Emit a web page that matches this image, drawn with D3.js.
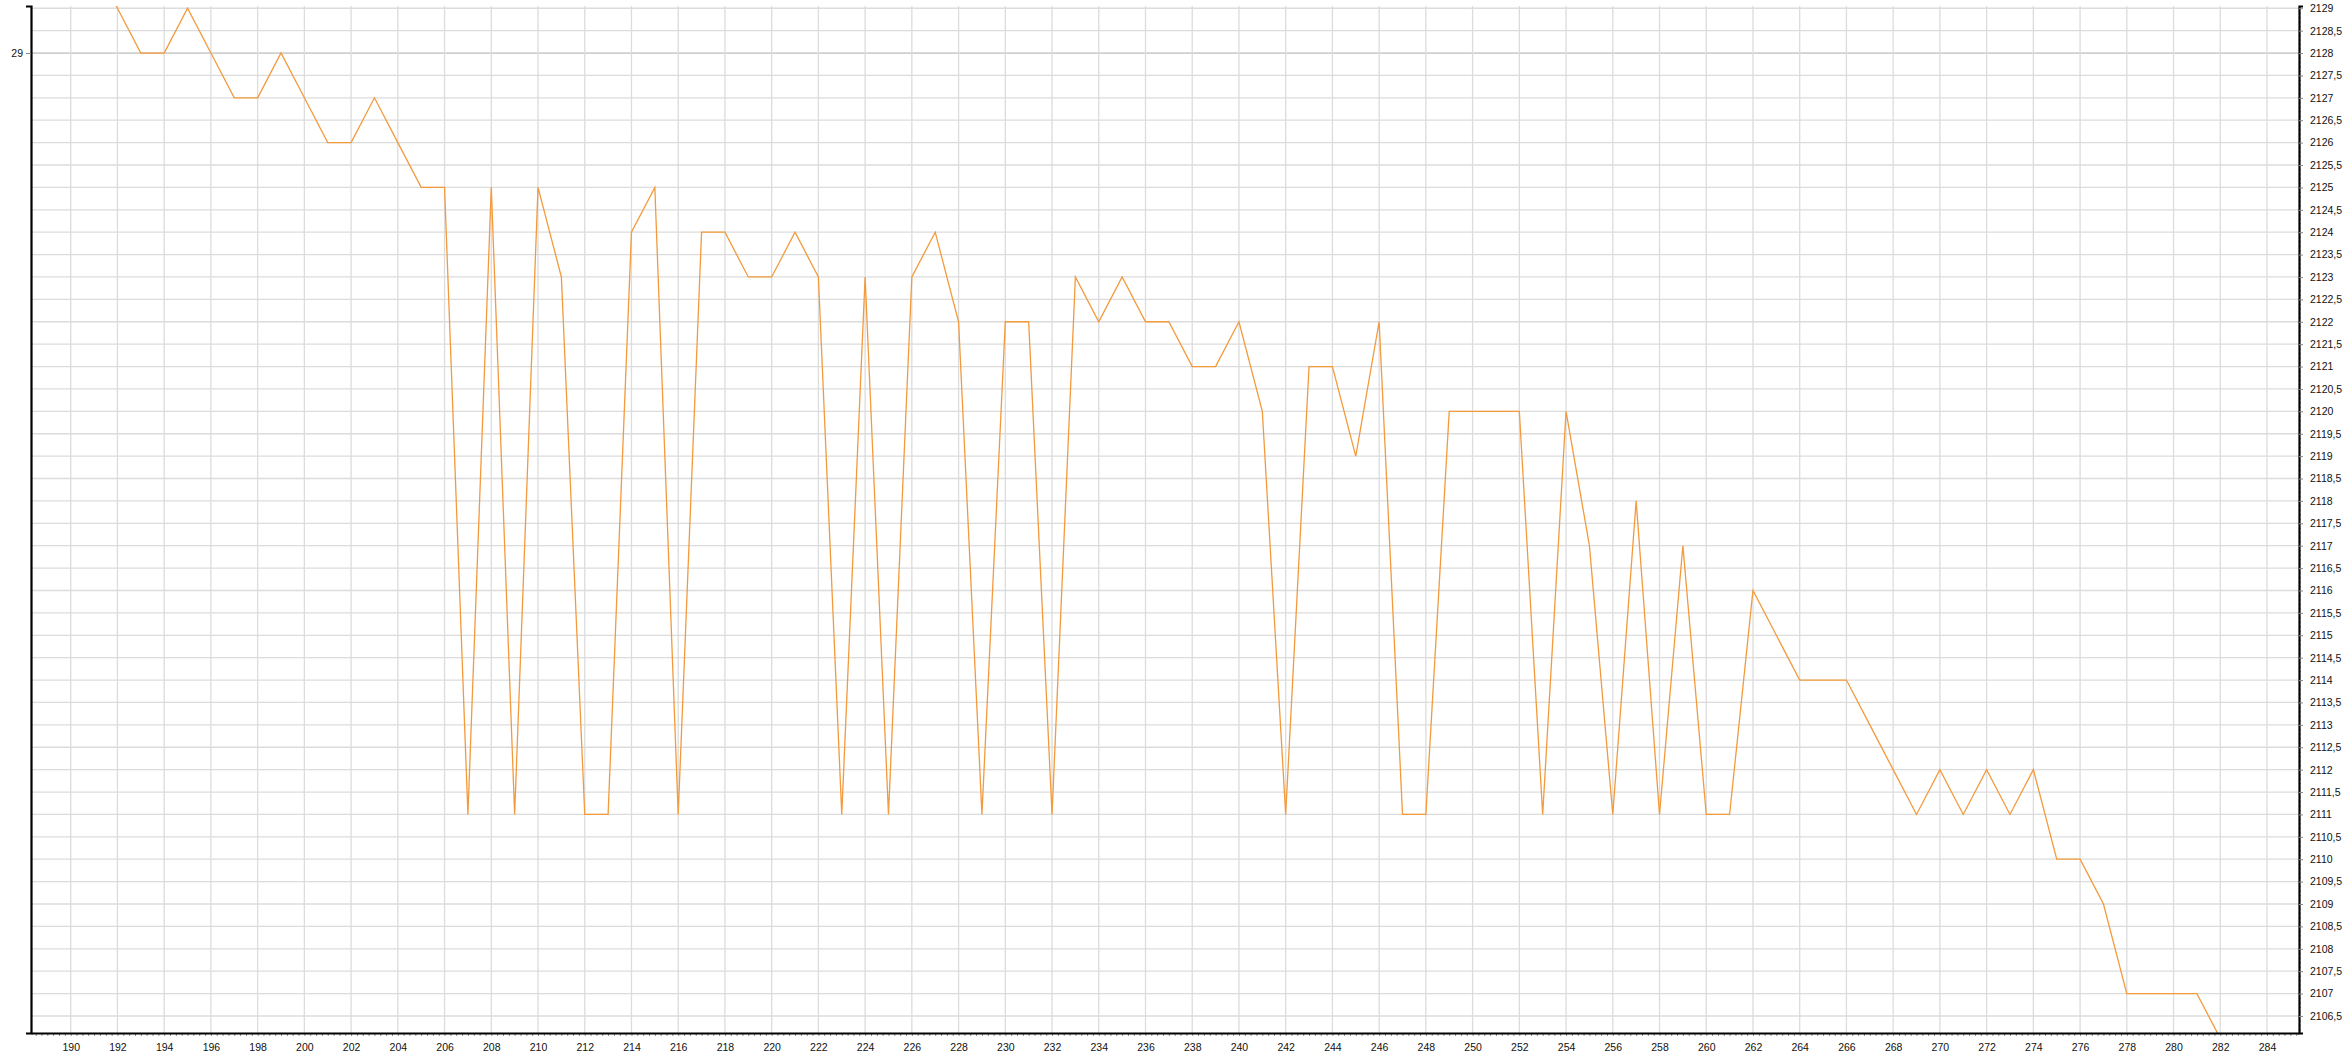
<!DOCTYPE html>
<html>
<head>
<meta charset="utf-8">
<script src="https://cdn.jsdelivr.net/npm/d3@7"></script>
<style>
  body { margin: 0; background: #fff; }
  svg { display: block; font-family: "Liberation Sans", Arial, sans-serif; }
</style>
</head>
<body>
<svg id="chart"></svg>
<script>
const WIDTH = 2352;
const HEIGHT = 1063;

// x positions (steps) and the values
var steps = [];
for (var s = 191; s <= 282; s++) steps.push(s);
var values = [
  2130, 2129, 2128, 2128, 2129, 2128, 2127, 2127, 2128, 2127, // 191-200
  2126, 2126, 2127, 2126, 2125, 2125, 2111, 2125, 2111, 2125, // 201-210
  2123, 2111, 2111, 2124, 2125, 2111, 2124, 2124, 2123, 2123, // 211-220
  2124, 2123, 2111, 2123, 2111, 2123, 2124, 2122, 2111, 2122, // 221-230
  2122, 2111, 2123, 2122, 2123, 2122, 2122, 2121, 2121, 2122, // 231-240
  2120, 2111, 2121, 2121, 2119, 2122, 2111, 2111, 2120, 2120, // 241-250
  2120, 2120, 2111, 2120, 2117, 2111, 2118, 2111, 2117, 2111, // 251-260
  2111, 2116, 2115, 2114, 2114, 2114, 2113, 2112, 2111, 2112, // 261-270
  2111, 2112, 2111, 2112, 2110, 2110, 2109, 2107, 2107, 2107, // 271-280
  2107, 2106                                                  // 281-282
];
var xTicks = d3.range(190, 285, 2);
var yTicks = d3.range(2106.5, 2129.01, 0.5);
var leftTicks = [29];

var svg = d3.select('#chart')
    .attr('width', WIDTH)
    .attr('height', HEIGHT);

// plot box
var plotLeft = 31, plotRight = 2299, plotTop = 6, plotBottom = 1033;

var xScale = d3.scaleLinear().domain([188.3, 285.37]).range([plotLeft, plotRight]);
var yScale = d3.scaleLinear().domain([2106.12, 2129.05]).range([plotBottom, plotTop]);
// left axis only carries one label, lined up with 2128
var leftScale = d3.scaleLinear()
    .domain([yScale.domain()[0] - 2099, yScale.domain()[1] - 2099])
    .range([plotBottom, plotTop]);

var commaFmt = d3.formatLocale({decimal: ',', thousands: '', grouping: [3], currency: ['', '']}).format('~f');

// grid
var grid = svg.append('g').attr('class', 'grid');
grid.selectAll('line.h')
    .data(yTicks)
    .enter().append('line')
    .attr('class', 'h')
    .attr('x1', plotLeft).attr('x2', plotRight)
    .attr('y1', function(d){ return yScale(d); })
    .attr('y2', function(d){ return yScale(d); })
    .attr('stroke', function(d){ return d === 2128 ? '#cfcfcf' : '#dcdcdc'; })
    .attr('stroke-width', function(d){ return d === 2128 ? 1.8 : 1.3; });
grid.selectAll('line.v')
    .data(xTicks)
    .enter().append('line')
    .attr('class', 'v')
    .attr('y1', plotTop).attr('y2', plotBottom)
    .attr('x1', function(d){ return xScale(d); })
    .attr('x2', function(d){ return xScale(d); })
    .attr('stroke', '#dcdcdc')
    .attr('stroke-width', 1.3);

// series line, clipped to the plot box
svg.append('clipPath').attr('id', 'plotclip')
  .append('rect')
    .attr('x', plotLeft).attr('y', plotTop)
    .attr('width', plotRight - plotLeft).attr('height', plotBottom - plotTop);

var line = d3.line()
    .x(function(d, i){ return xScale(steps[i]); })
    .y(function(d){ return yScale(d); });

svg.append('path')
    .datum(values)
    .attr('clip-path', 'url(#plotclip)')
    .attr('fill', 'none')
    .attr('stroke', '#f39a3c')
    .attr('stroke-width', 1.3)
    .attr('stroke-linejoin', 'miter')
    .attr('d', line);

// minor ticks
svg.append('g')
    .attr('transform', 'translate(0,' + plotBottom + ')')
    .call(d3.axisBottom(xScale).tickValues(d3.range(188.5, 285.3, 0.25)).tickSize(3).tickFormat(''))
    .call(function(g){ g.select('.domain').remove(); g.selectAll('line').attr('stroke', '#8a8a8a'); });
svg.append('g')
    .attr('transform', 'translate(' + plotRight + ',0)')
    .call(d3.axisRight(yScale).tickValues(d3.range(2106.2, 2129.01, 0.1)).tickSize(2).tickFormat(''))
    .call(function(g){ g.select('.domain').remove(); g.selectAll('line').attr('stroke', '#8a8a8a'); });

// bottom axis
var xAxis = svg.append('g')
    .attr('transform', 'translate(0,' + plotBottom + ')')
    .call(d3.axisBottom(xScale).tickValues(xTicks).tickSize(0).tickPadding(11).tickFormat(d3.format('d')));
xAxis.select('.domain').attr('stroke', '#000').attr('stroke-width', 2.2);
xAxis.selectAll('text').attr('font-size', '10.5px').attr('fill', '#111').attr('font-family', '"Liberation Sans", Arial, sans-serif');

// right axis
var yAxis = svg.append('g')
    .attr('transform', 'translate(' + plotRight + ',0)')
    .call(d3.axisRight(yScale).tickValues(yTicks).tickSize(4).tickPadding(7).tickFormat(commaFmt));
yAxis.select('.domain').attr('stroke', '#000').attr('stroke-width', 2.2);
yAxis.selectAll('line').attr('stroke', '#8a8a8a');
yAxis.selectAll('text').attr('font-size', '10.5px').attr('fill', '#111').attr('font-family', '"Liberation Sans", Arial, sans-serif');

// left axis
var lAxis = svg.append('g')
    .attr('transform', 'translate(' + plotLeft + ',0)')
    .call(d3.axisLeft(leftScale).tickValues(leftTicks).tickSize(5).tickPadding(3).tickFormat(d3.format('d')));
lAxis.select('.domain').attr('stroke', '#000').attr('stroke-width', 2.2);
lAxis.selectAll('line').attr('stroke', '#8a8a8a');
lAxis.selectAll('text').attr('font-size', '10.5px').attr('fill', '#111').attr('font-family', '"Liberation Sans", Arial, sans-serif');
</script>
</body>
</html>
